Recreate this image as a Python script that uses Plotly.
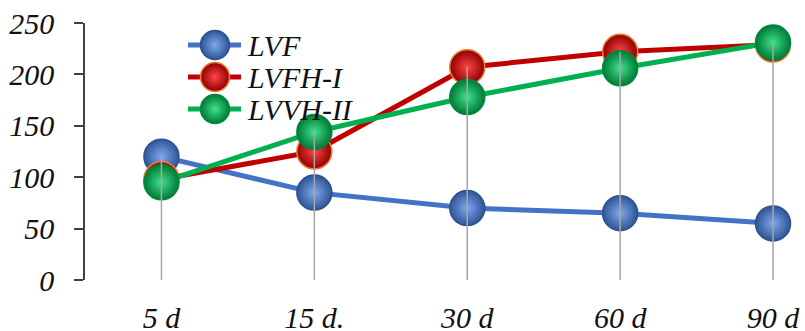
import plotly.graph_objects as go

categories = ["5 d", "15 d.", "30 d", "60 d", "90 d"]
lvf = [120, 85, 70, 65, 55]
lvfh_i = [98, 125, 207, 222, 229]
lvvh_ii = [95, 144, 178, 206, 231]
y_ticks = [0, 50, 100, 150, 200, 250]
names = ["LVF", "LVFH-I", "LVVH-II"]

FONT = "Liberation Serif"

fig = go.Figure()

# line colour, sphere edge colour, sphere centre colour, outline colour
styles = [
    ("#4472C4", "#2F5597", "#7FA8EC", "#2F528F"),
    ("#C00000", "#8E0000", "#FF4545", "#ED7D31"),
    ("#00B050", "#007A36", "#40E08C", "#00883C"),
]
for name, vals, (lc, edgecol, center, outline) in zip(names, [lvf, lvfh_i, lvvh_ii], styles):
    fig.add_trace(go.Scatter(
        x=categories, y=vals, name=name, mode="lines+markers", showlegend=False,
        line=dict(color=lc, width=5),
        marker=dict(size=35, color=edgecol, gradient=dict(type="radial", color=center),
                    line=dict(color=outline, width=1.5)),
        cliponaxis=False,
    ))

# drop lines from 0 to the highest point of each category
dx, dy = [], []
for i, c in enumerate(categories):
    top = max(lvf[i], lvfh_i[i], lvvh_ii[i])
    dx += [c, c, None]
    dy += [0, top, None]
fig.add_trace(go.Scatter(x=dx, y=dy, mode="lines", showlegend=False,
                         line=dict(color="#A6A6A6", width=1.5), hoverinfo="skip",
                         cliponaxis=False))

# custom legend on an overlay axis measured in pixels
leg_rows = [45, 77, 109]
for name, yrow, (lc, edgecol, center, outline) in zip(names, leg_rows, styles):
    fig.add_trace(go.Scatter(x=[188, 241], y=[yrow, yrow], xaxis="x2", yaxis="y2",
                             mode="lines", line=dict(color=lc, width=5),
                             showlegend=False, hoverinfo="skip", cliponaxis=False))
    fig.add_trace(go.Scatter(x=[215], y=[yrow], xaxis="x2", yaxis="y2",
                             mode="markers", showlegend=False, hoverinfo="skip",
                             cliponaxis=False,
                             marker=dict(size=29, color=edgecol,
                                         gradient=dict(type="radial", color=center),
                                         line=dict(color=outline, width=1.5))))
    fig.add_annotation(x=245, y=yrow, xref="x2", yref="y2", text=name, showarrow=False,
                       xanchor="left", yanchor="middle",
                       font=dict(family=FONT, size=30, style="italic", color="#111111"))

fig.update_layout(
    width=805, height=331,
    margin=dict(l=85, r=0, t=23, b=51, autoexpand=False),
    paper_bgcolor="white", plot_bgcolor="white",
    font=dict(family=FONT, size=30, color="#111111", style="italic"),
    showlegend=False,
    xaxis2=dict(domain=[0, 1], range=[85, 805], overlaying="x", visible=False),
    yaxis2=dict(domain=[0, 1], range=[280, 23], overlaying="y", visible=False),
)
fig.layout.xaxis.update(type="category", range=[-0.5, 4.209], showgrid=False, showline=False,
                        zeroline=False, ticks="", ticklabelstandoff=17, automargin=False,
                        tickfont=dict(family=FONT, size=30, style="italic", color="#111111"))
fig.layout.yaxis.update(range=[0, 250], tickvals=y_ticks, showgrid=False, zeroline=False,
                        showline=True, linecolor="#404040", linewidth=1.5,
                        ticks="outside", ticklen=9, tickcolor="#404040", tickwidth=1.5,
                        ticklabelstandoff=14, automargin=False,
                        tickfont=dict(family=FONT, size=30, style="italic", color="#111111"))

fig.write_html("out.html")
